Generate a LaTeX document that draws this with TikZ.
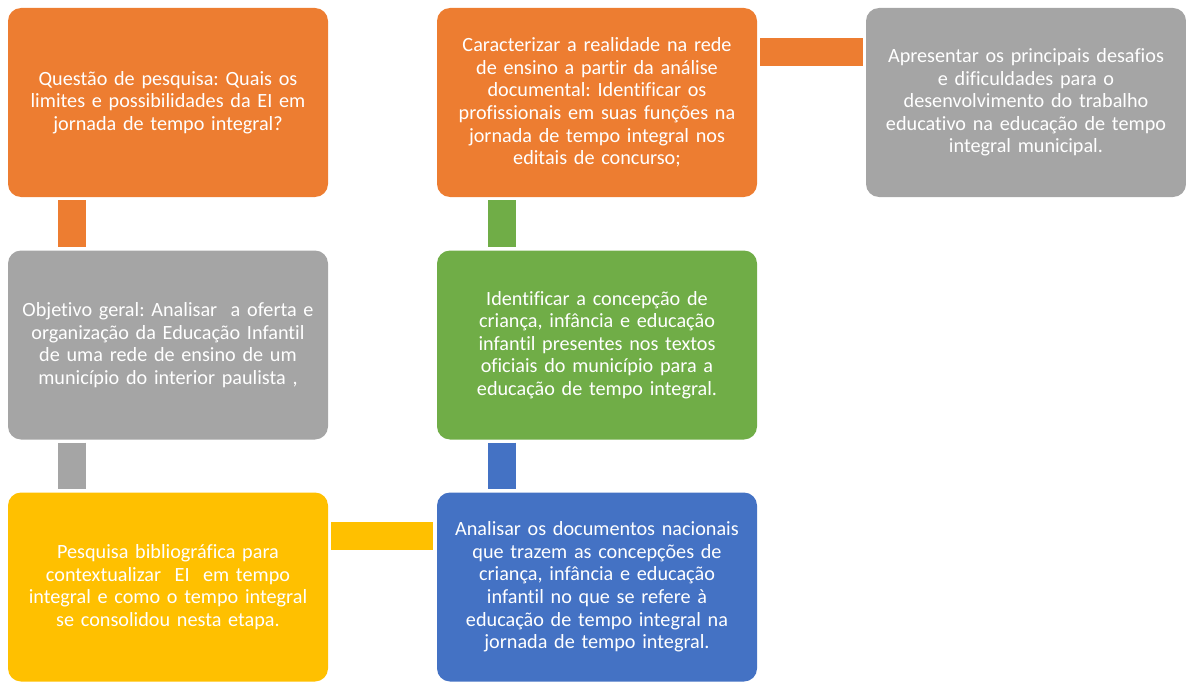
\documentclass[tikz,border=0pt]{standalone}
\usepackage{fontspec}
\setmainfont[Ligatures=NoCommon]{Carlito}
\usepackage{tikz}
\definecolor{boxorange}{HTML}{ED7D31}
\definecolor{boxgray}{HTML}{A5A5A5}
\definecolor{boxyellow}{HTML}{FFC000}
\definecolor{boxblue}{HTML}{4472C4}
\definecolor{boxgreen}{HTML}{70AD47}
\frenchspacing
\tikzset{
    stepbox/.style={rectangle, rounded corners=13pt, fill=#1, text=white,
        minimum width=320pt, minimum height=189pt, text width=314pt,
        inner sep=0pt, align=center,
        font=\fontsize{20.2}{22.6}\selectfont},
    bar/.style={line width=28pt, draw=#1}
}
\begin{document}
\begin{tikzpicture}[x=1pt,y=-1pt]
    \useasboundingbox (0,0) rectangle (1186,682);
    % --- LEFT COLUMN ---
    \node[stepbox=boxorange] (quest) at (168,102.5) {Questão de pesquisa: Quais os\\ limites e possibilidades da EI em\\ jornada de tempo integral?};
    \node[stepbox=boxgray] (obj) at (168,345) {Objetivo geral: Analisar\ \ a oferta e\\ organização da Educação Infantil\\ de uma rede de ensino de um\\ município do interior paulista ,};
    \node[stepbox=boxyellow] (pesq) at (168,587) {Pesquisa bibliográfica para\\ contextualizar\ \ EI\ \ em tempo\\ integral e como o tempo integral\\ se consolidou nesta etapa.};
    % --- MIDDLE COLUMN ---
    \node[stepbox=boxorange] (carac) at (597,102.5) {Caracterizar a realidade na rede\\ de ensino a partir da análise\\ documental: Identificar os\\ profissionais em suas funções na\\ jornada de tempo integral nos\\ editais de concurso;};
    \node[stepbox=boxgreen] (ident) at (597,345) {Identificar a concepção de\\ criança, infância e educação\\ infantil presentes nos textos\\ oficiais do município para a\\ educação de tempo integral.};
    \node[stepbox=boxblue] (anal) at (597,587) {Analisar os documentos nacionais\\ que trazem as concepções de\\ criança, infância e educação\\ infantil no que se refere à\\ educação de tempo integral na\\ jornada de tempo integral.};
    % --- RIGHT ---
    \node[stepbox=boxgray] (apres) at (1026,102.5) {Apresentar os principais desafios\\ e dificuldades para o\\ desenvolvimento do trabalho\\ educativo na educação de tempo\\ integral municipal.};
    % --- BARS ---
    \draw[bar=boxorange] ([shift={(64,3)}]quest.south west) -- ([shift={(64,-3)}]obj.north west);
    \draw[bar=boxgray] ([shift={(64,3)}]obj.south west) -- ([shift={(64,-3)}]pesq.north west);
    \draw[bar=boxyellow] ([shift={(3,44)}]pesq.north east) -- ([shift={(-4,44)}]anal.north west);
    \draw[bar=boxblue] ([shift={(65,3)}]ident.south west) -- ([shift={(65,-3)}]anal.north west);
    \draw[bar=boxgreen] ([shift={(65,3)}]carac.south west) -- ([shift={(65,-3)}]ident.north west);
    \draw[bar=boxorange] ([shift={(3,44.5)}]carac.north east) -- ([shift={(-3,44.5)}]apres.north west);
\end{tikzpicture}
\end{document}
